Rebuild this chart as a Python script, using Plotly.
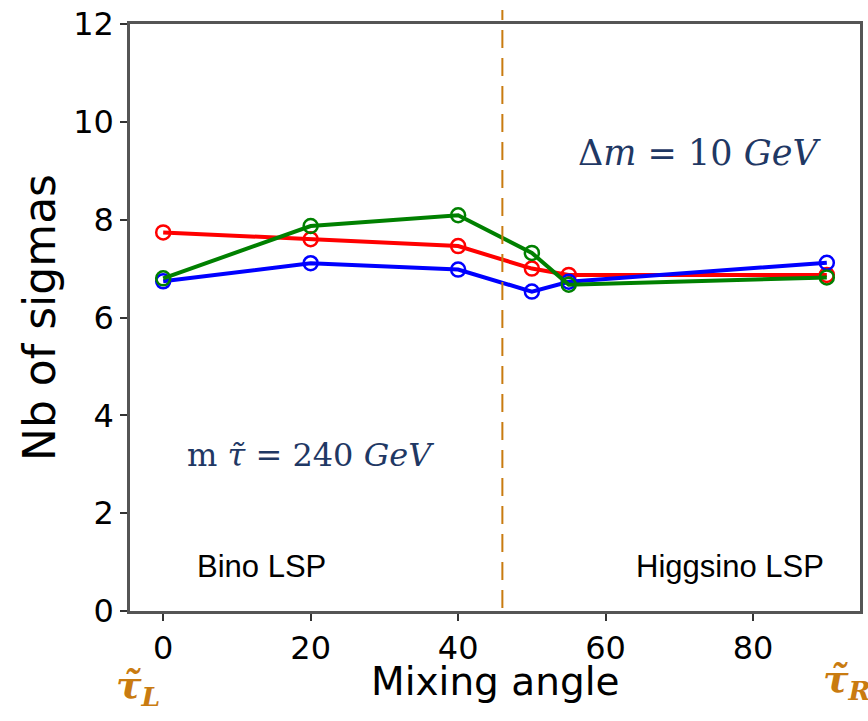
import plotly.graph_objects as go

# Data
mixing_angle = [0, 20, 40, 50, 55, 90]
sig_red = [7.74, 7.60, 7.46, 7.00, 6.87, 6.87]
sig_blue = [6.74, 7.11, 6.98, 6.53, 6.73, 7.12]
sig_green = [6.80, 7.87, 8.09, 7.32, 6.67, 6.82]
x_ticks = [0, 20, 40, 60, 80]
y_ticks = [0, 2, 4, 6, 8, 10, 12]
boundary_angle = 46

NAVY = "#1F3864"
ORANGE = "#C97B10"

fig = go.Figure()
for vals, col in [(sig_red, "#FF0000"), (sig_blue, "#0000FF"), (sig_green, "#008000")]:
    fig.add_trace(go.Scatter(
        x=mixing_angle, y=vals, mode="lines+markers",
        line=dict(color=col, width=4),
        marker=dict(symbol="circle-open", size=14, color=col, line=dict(width=2.5, color=col)),
        showlegend=False,
    ))

fig.add_shape(type="line", xref="x", yref="paper", x0=boundary_angle, x1=boundary_angle,
              y0=0.005, y1=1.024, line=dict(color=ORANGE, width=2, dash="18px,10px"))

ann = []
ann.append(dict(x=4.3, y=0.9, xref="x", yref="y", text="Bino LSP", showarrow=False,
                xanchor="left", yanchor="middle",
                font=dict(family="Liberation Sans", size=31, color="black")))
ann.append(dict(x=76.9, y=0.9, xref="x", yref="y", text="Higgsino LSP", showarrow=False,
                xanchor="center", yanchor="middle",
                font=dict(family="Liberation Sans", size=31, color="black")))
ann.append(dict(x=72.7, y=9.36, xref="x", yref="y", text="Δ<i>m</i> = 10 <i>GeV</i>", showarrow=False,
                xanchor="center", yanchor="middle",
                font=dict(family="DejaVu Serif", size=35, color=NAVY)))
ann.append(dict(x=20, y=3.19, xref="x", yref="y", text="m <i>τ̃</i> = 240 <i>GeV</i>", showarrow=False,
                xanchor="center", yanchor="middle",
                font=dict(family="DejaVu Serif", size=32, color=NAVY)))
ann.append(dict(x=0.011, y=-0.13, xref="paper", yref="paper",
                text="<b><i>τ̃<sub>L</sub></i></b>", showarrow=False,
                xanchor="center", yanchor="middle",
                font=dict(family="DejaVu Serif", size=38, color=ORANGE)))
ann.append(dict(x=0.946, y=-0.12, xref="paper", yref="paper",
                text="<b><i>τ̃<sub>R</sub></i></b>", showarrow=False,
                xanchor="left", yanchor="middle",
                font=dict(family="DejaVu Serif", size=38, color=ORANGE)))
ann.append(dict(x=0.5, y=-0.12, xref="paper", yref="paper", text="Mixing angle",
                showarrow=False, xanchor="center", yanchor="middle",
                font=dict(family="DejaVu Sans", size=39, color="black")))

fig.update_layout(
    width=868, height=721,
    margin=dict(l=130, r=5, t=24, b=110),
    paper_bgcolor="white", plot_bgcolor="white",
    font=dict(family="DejaVu Sans", color="black"),
    annotations=ann,
)
fig.update_xaxes(range=[-4.5, 94.5], tickvals=x_ticks, ticks="outside", ticklen=7, tickwidth=1.5,
                 tickcolor="#333", showline=True, linecolor="#555", linewidth=2.5, mirror=True,
                 showgrid=False, zeroline=False, tickfont=dict(size=32))
fig.update_yaxes(range=[0, 12], tickvals=y_ticks, ticks="outside", ticklen=7, tickwidth=1.5,
                 tickcolor="#333", showline=True, linecolor="#555", linewidth=2.5, mirror=True,
                 showgrid=False, zeroline=False, tickfont=dict(size=32),
                 title=dict(text="Nb of sigmas", font=dict(size=44), standoff=4))

fig.write_html("out.html")
